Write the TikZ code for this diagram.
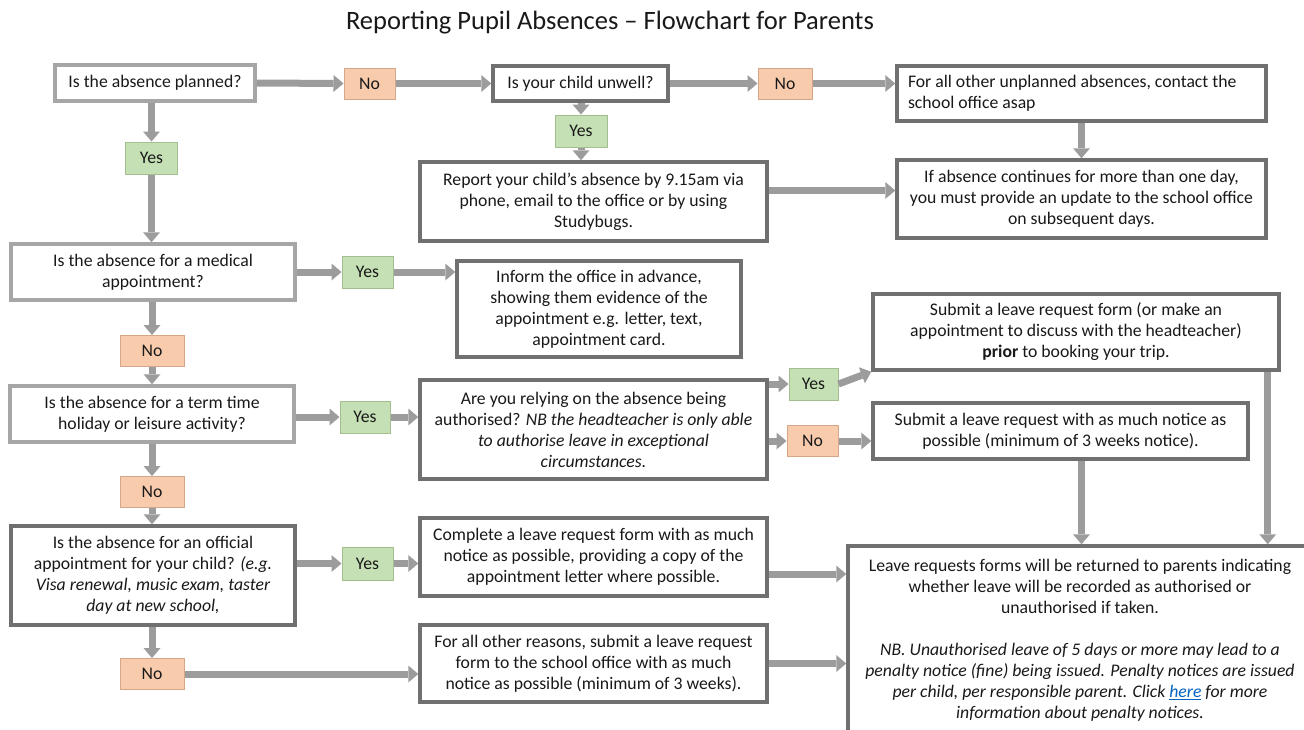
\documentclass[tikz,border=0pt]{standalone}
\usepackage{fontspec}
\setmainfont{Carlito}
\usetikzlibrary{arrows.meta,positioning}
\definecolor{EdgeLight}{HTML}{A6A6A6}
\definecolor{EdgeDark}{HTML}{707070}
\definecolor{FlowGray}{HTML}{9C9C9C}
\definecolor{YesFill}{HTML}{C5E0B4}
\definecolor{YesEdge}{HTML}{A3BF90}
\definecolor{NoFill}{HTML}{F8CBAD}
\definecolor{NoEdge}{HTML}{D6A688}
\definecolor{LinkBlue}{HTML}{0563C1}

\begin{document}
\begin{tikzpicture}[x=1pt,y=-1pt,font=\fontsize{17.7}{21}\selectfont,text=black!90,
  qlight/.style={draw=EdgeLight,line width=3.5pt,fill=white,align=center},
  qdark/.style={draw=EdgeDark,line width=3.5pt,fill=white,align=center},
  yesbox/.style={draw=YesEdge,line width=1pt,fill=YesFill,minimum width=52pt,minimum height=32pt},
  nobox/.style={draw=NoEdge,line width=1pt,fill=NoFill,minimum width=51pt,minimum height=31pt},
  flow/.style={draw=FlowGray,line width=7pt,-{Triangle[length=10pt,width=17pt,line width=0pt]}}]
  \clip (0,0) rectangle (1304,729);
  \fill[white] (0,0) rectangle (1304,729);
  \node[font=\fontsize{26.5}{30}\selectfont] (title) at (610,23) {Reporting Pupil Absences – Flowchart for Parents};
  % first row
  \node[qlight,minimum width=200pt,minimum height=36pt] (planned) at (155,83) {Is the absence planned?};
  \node[nobox] (no1) at (369.5,83.5) {No};
  \node[qdark,minimum width=175pt,minimum height=35pt] (unwell) at (580.5,83.5) {Is your child unwell?};
  \node[nobox,minimum width=54pt] (no2) at (785,83.5) {No};
  \node[qdark,align=flush left,text width=347pt,inner xsep=11pt,minimum height=55pt] (other) at (1081.5,93.5) {For all other unplanned absences, contact the\\school office asap};
  \node[yesbox] (yes1) at (151.5,158) {Yes};
  \node[yesbox] (yes2) at (581,131) {Yes};
  \node[qdark,minimum width=347pt,minimum height=79pt] (report) at (593.5,201.5) {Report your child’s absence by 9.15am via\\phone, email to the office or by using\\Studybugs.};
  \node[qdark,minimum width=369pt,minimum height=78pt] (continues) at (1081.5,199) {If absence continues for more than one day,\\you must provide an update to the school office\\on subsequent days.};
  % medical
  \node[qlight,minimum width=284pt,minimum height=56pt] (medical) at (153,272) {Is the absence for a medical\\appointment?};
  \node[yesbox,minimum width=51pt] (yes3) at (367.5,272) {Yes};
  \node[qdark,minimum width=284pt,minimum height=96pt] (inform) at (599,309) {Inform the office in advance,\\showing them evidence of the\\appointment e.g. letter, text,\\appointment card.};
  \node[nobox,minimum width=64pt] (no3) at (152,351) {No};
  % holiday
  \node[qlight,minimum width=284pt,minimum height=56pt] (holiday) at (152,414) {Is the absence for a term time\\holiday or leisure activity?};
  \node[yesbox,minimum width=50pt] (yes4) at (365,417) {Yes};
  \node[qdark,minimum width=347pt,minimum height=99pt] (relying) at (593.5,429.5) {Are you relying on the absence being\\authorised? \textit{NB the headteacher is only able}\\\textit{to authorise leave in exceptional}\\\textit{circumstances.}};
  \node[yesbox,minimum width=49pt] (yes5) at (813.5,384) {Yes};
  \node[nobox] (no4) at (812.5,441) {No};
  \node[qdark,minimum width=406pt,minimum height=76pt] (prior) at (1076,332) {Submit a leave request form (or make an\\appointment to discuss with the headteacher)\\\textbf{prior} to booking your trip.};
  \node[qdark,minimum width=375pt,minimum height=56pt] (notice) at (1060.5,431) {Submit a leave request with as much notice as\\possible (minimum of 3 weeks notice).};
  \node[nobox,minimum width=64pt] (no5) at (152,492) {No};
  % official
  \node[qdark,minimum width=284pt,minimum height=99pt] (official) at (153,575.5) {Is the absence for an official\\appointment for your child? \textit{(e.g.}\\\textit{Visa renewal, music exam, taster}\\\textit{day at new school,}};
  \node[yesbox,minimum width=51pt,minimum height=33pt] (yes6) at (367.5,563.5) {Yes};
  \node[qdark,minimum width=347pt,minimum height=78pt] (complete) at (593.5,557) {Complete a leave request form with as much\\notice as possible, providing a copy of the\\appointment letter where possible.};
  \node[nobox,minimum width=64pt] (no6) at (152,674) {No};
  \node[qdark,minimum width=347pt,minimum height=77pt] (reasons) at (593.5,663.5) {For all other reasons, submit a leave request\\form to the school office with as much\\notice as possible (minimum of 3 weeks).};
  \node[qdark,minimum width=464pt,minimum height=188pt] (returned) at (1080,640) {Leave requests forms will be returned to parents indicating\\whether leave will be recorded as authorised or\\unauthorised if taken.\\[21pt]\textit{NB. Unauthorised leave of 5 days or more may lead to a}\\\textit{penalty notice (fine) being issued. Penalty notices are issued}\\\textit{per child, per responsible parent. Click \textcolor{LinkBlue}{\underline{here}} for more}\\\textit{information about penalty notices.}};
  % connectors
  \draw[flow] (planned.east) -- (no1.west);
  \draw[flow] (no1.east) -- (unwell.west);
  \draw[flow] (unwell.east) -- (no2.west);
  \draw[flow] (no2.east) -- (no2.east -| other.west);
  \draw[flow] (other.south) -- (continues.north);
  \draw[flow] (planned.south -| yes1) -- (yes1.north);
  \draw[flow] (yes1.south) -- (yes1.south |- medical.north);
  \draw[flow] (unwell.south -| yes2) -- (yes2.north);
  \draw[flow] (yes2.south) -- (yes2.south |- report.north);
  \draw[flow] ([yshift=11pt]report.east) -- ([yshift=11pt]report.east -| continues.west);
  \draw[flow] (medical.east |- yes3) -- (yes3.west);
  \draw[flow] (yes3.east) -- (yes3.east -| inform.west);
  \draw[flow] (medical.south -| no3) -- (no3.north);
  \draw[flow] (no3.south) -- (no3.south |- holiday.north);
  \draw[flow] (holiday.east |- yes4) -- (yes4.west);
  \draw[flow] (yes4.east) -- (yes4.east -| relying.west);
  \draw[flow] (relying.east |- yes5) -- (yes5.west);
  \draw[flow] (yes5.east) -- (prior.south west);
  \draw[flow] (relying.east |- no4) -- (no4.west);
  \draw[flow] (no4.east) -- (no4.east -| notice.west);
  \draw[flow] (continues.south |- notice.south) -- (continues.south |- returned.north);
  \draw[flow] ([xshift=-13pt]prior.south east) -- ([xshift=-13pt]prior.south east |- returned.north);
  \draw[flow] (holiday.south -| no5) -- (no5.north);
  \draw[flow] (no5.south) -- (no5.south |- official.north);
  \draw[flow] (official.east |- yes6) -- (yes6.west);
  \draw[flow] (yes6.east) -- (yes6.east -| complete.west);
  \draw[flow] ([yshift=-17pt]complete.east) -- ([yshift=-17pt]complete.east -| returned.west);
  \draw[flow] (official.south -| no6) -- (no6.north);
  \draw[flow] (no6.east) -- (no6.east -| reasons.west);
  \draw[flow] (reasons.east) -- (reasons.east -| returned.west);
\end{tikzpicture}
\end{document}
